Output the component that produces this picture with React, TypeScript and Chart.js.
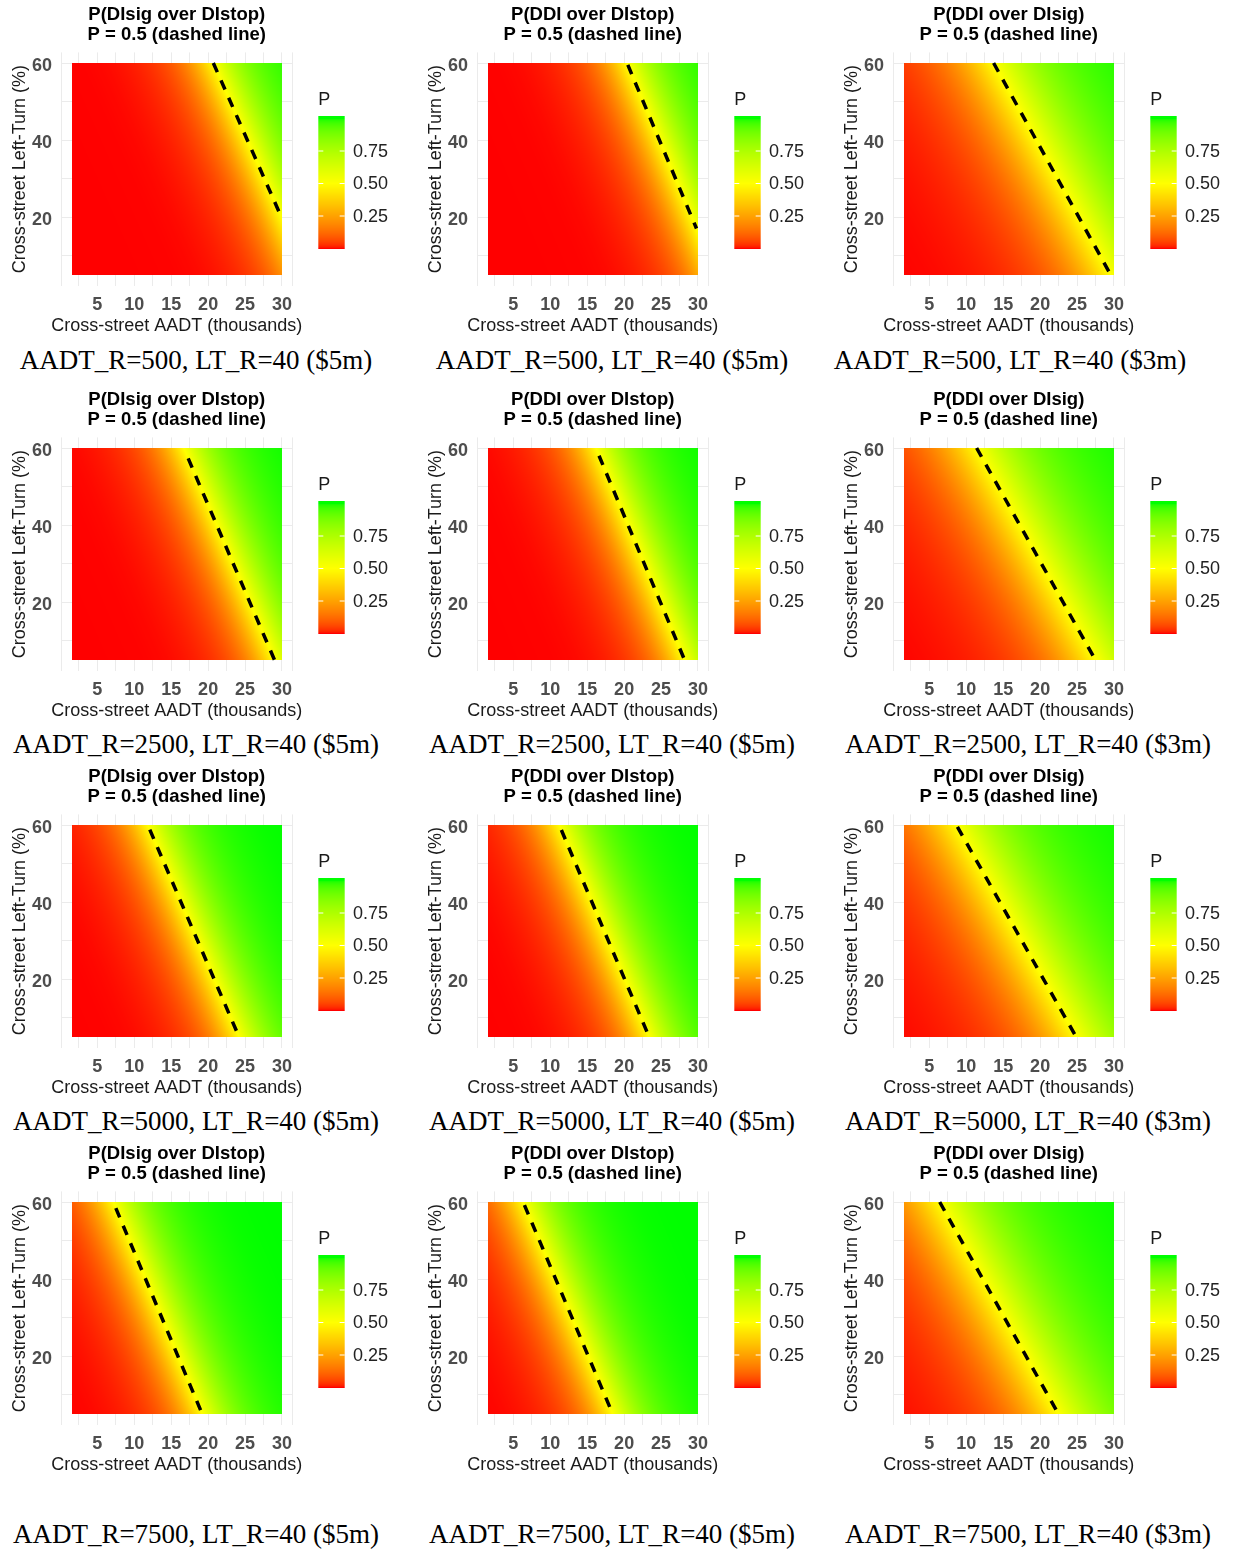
import React, { useEffect, useRef } from 'react';
import { Chart, registerables } from 'chart.js';

Chart.register(...registerables);

// ---------- data ----------
const panelTitles = ['P(DIsig over DIstop)', 'P(DDI over DIstop)', 'P(DDI over DIsig)'];
const panelSubtitle = 'P = 0.5 (dashed line)';
const xAxisTitle = 'Cross-street AADT (thousands)';
const yAxisTitle = 'Cross-street Left-Turn (%)';
const legendTitle = 'P';

const captions = [
  'AADT_R=500, LT_R=40 ($5m)', 'AADT_R=500, LT_R=40 ($5m)', 'AADT_R=500, LT_R=40 ($3m)',
  'AADT_R=2500, LT_R=40 ($5m)', 'AADT_R=2500, LT_R=40 ($5m)', 'AADT_R=2500, LT_R=40 ($3m)',
  'AADT_R=5000, LT_R=40 ($5m)', 'AADT_R=5000, LT_R=40 ($5m)', 'AADT_R=5000, LT_R=40 ($3m)',
  'AADT_R=7500, LT_R=40 ($5m)', 'AADT_R=7500, LT_R=40 ($5m)', 'AADT_R=7500, LT_R=40 ($3m)',
];

// P = 0.5 contour (dashed line) end points, per panel (row-major)
const contourX1 = [20.7, 20.5, 13.7, 17.3, 16.6, 11.4, 12.1, 11.5, 8.8, 7.5, 6.5, 6.4];
const contourY1 = [60.0, 59.5, 60.0, 57.3, 58.0, 60.0, 58.8, 58.7, 59.5, 58.4, 59.2, 60.0];
const contourX2 = [30.0, 29.8, 29.5, 29.0, 28.2, 27.5, 24.2, 23.4, 24.9, 19.1, 18.4, 22.4];
const contourY2 = [19.7, 17.1, 5.3, 5.0, 5.0, 5.0, 5.0, 5.0, 5.0, 5.5, 5.3, 5.3];
// how quickly P changes with AADT (per thousand) across the contour
const steepness = [0.4, 0.4, 0.25, 0.4, 0.4, 0.25, 0.4, 0.4, 0.25, 0.4, 0.4, 0.25];

const aadtRange = [1.6, 30];
const ltRange = [5, 60];
const xTicks = [5, 10, 15, 20, 25, 30];
const yTicks = [20, 40, 60];
const legendTicks = [0.25, 0.5, 0.75];

// ---------- layout ----------
const rowOffsets = [0, 385, 762, 1139];
const captionY = [360, 744, 1121, 1534];
const captionShift = [0, 0, -18, 0, 0, 0, 0, 0, 0, 0, 0, 0];
const CANVAS_H = 340;

// ---------- colour scale (Lab interpolation red -> yellow -> green) ----------
function toLin(c: number) { c /= 255; return c <= 0.04045 ? c / 12.92 : Math.pow((c + 0.055) / 1.055, 2.4); }
function fromLin(v: number) {
  v = v <= 0.0031308 ? 12.92 * v : 1.055 * Math.pow(v, 1 / 2.4) - 0.055;
  return Math.round(Math.max(0, Math.min(1, v)) * 255);
}
const XN = 0.95047, YN = 1, ZN = 1.08883;
function rgbToLab(rgb: number[]) {
  const R = toLin(rgb[0]), G = toLin(rgb[1]), B = toLin(rgb[2]);
  const X = 0.4124 * R + 0.3576 * G + 0.1805 * B;
  const Y = 0.2126 * R + 0.7152 * G + 0.0722 * B;
  const Z = 0.0193 * R + 0.1192 * G + 0.9505 * B;
  const f = (t: number) => (t > 0.008856 ? Math.cbrt(t) : 7.787 * t + 16 / 116);
  const fx = f(X / XN), fy = f(Y / YN), fz = f(Z / ZN);
  return [116 * fy - 16, 500 * (fx - fy), 200 * (fy - fz)];
}
function labToRgb(lab: number[]) {
  const fy = (lab[0] + 16) / 116, fx = fy + lab[1] / 500, fz = fy - lab[2] / 200;
  const inv = (t: number) => (t * t * t > 0.008856 ? t * t * t : (t - 16 / 116) / 7.787);
  const X = XN * inv(fx), Y = YN * inv(fy), Z = ZN * inv(fz);
  const R = 3.2406 * X - 1.5372 * Y - 0.4986 * Z;
  const G = -0.9689 * X + 1.8758 * Y + 0.0415 * Z;
  const B = 0.0557 * X - 0.204 * Y + 1.057 * Z;
  return [fromLin(R), fromLin(G), fromLin(B)];
}
const LOW = rgbToLab([255, 0, 0]);
const MID = rgbToLab([255, 255, 0]);
const HIGH = rgbToLab([0, 255, 0]);
const LUT_N = 4096;
const LUT: number[][] = [];
for (let i = 0; i <= LUT_N; i++) {
  const p = i / LUT_N;
  let a: number[], b: number[], t: number;
  if (p < 0.5) { a = LOW; b = MID; t = p / 0.5; } else { a = MID; b = HIGH; t = (p - 0.5) / 0.5; }
  LUT.push(labToRgb([a[0] + (b[0] - a[0]) * t, a[1] + (b[1] - a[1]) * t, a[2] + (b[2] - a[2]) * t]));
}
function colorOf(p: number) { return LUT[Math.max(0, Math.min(LUT_N, Math.round(p * LUT_N)))]; }

function probability(i: number, x: number, y: number) {
  const xc = contourX1[i] + ((contourX2[i] - contourX1[i]) * (y - contourY1[i])) / (contourY2[i] - contourY1[i]);
  return 1 / (1 + Math.exp(-steepness[i] * (x - xc)));
}

const xGrid = [0.075, 2.5, 5, 7.5, 10, 12.5, 15, 17.5, 20, 22.5, 25, 27.5, 30, 31.425];
const yGrid = [10, 20, 30, 40, 50, 60];
const FONT = '"Liberation Sans", Arial, sans-serif';

function Panel({ index }: { index: number }) {
  const ref = useRef<HTMLCanvasElement>(null);
  const row = Math.floor(index / 3);
  const col = index % 3;
  const width = col === 2 ? 401 : 416;

  useEffect(() => {
    const canvas = ref.current!;
    const heatPlugin = {
      id: 'heat' + index,
      beforeDatasetsDraw(chart: any) {
        const { ctx } = chart;
        const xs = chart.scales.x, ys = chart.scales.y;
        const x0 = Math.round(xs.getPixelForValue(aadtRange[0]));
        const x1 = Math.round(xs.getPixelForValue(aadtRange[1]));
        const y0 = Math.round(ys.getPixelForValue(ltRange[1]));
        const y1 = Math.round(ys.getPixelForValue(ltRange[0]));
        const w = x1 - x0, h = y1 - y0;
        const off = document.createElement('canvas');
        off.width = w; off.height = h;
        const octx = off.getContext('2d')!;
        const img = octx.createImageData(w, h);
        for (let py = 0; py < h; py++) {
          const yv = ys.getValueForPixel(y0 + py + 0.5);
          for (let px = 0; px < w; px++) {
            const xv = xs.getValueForPixel(x0 + px + 0.5);
            const c = colorOf(probability(index, xv, yv));
            const k = (py * w + px) * 4;
            img.data[k] = c[0]; img.data[k + 1] = c[1]; img.data[k + 2] = c[2]; img.data[k + 3] = 255;
          }
        }
        octx.putImageData(img, 0, 0);
        ctx.drawImage(off, x0, y0);
      },
    };
    const decorPlugin = {
      id: 'decor' + index,
      afterDraw(chart: any) {
        const { ctx, chartArea: ca } = chart;
        const cx = (ca.left + ca.right) / 2;
        ctx.save();
        ctx.textAlign = 'center';
        ctx.textBaseline = 'middle';
        ctx.fillStyle = '#000';
        ctx.font = `bold 18.5px ${FONT}`;
        ctx.fillText(panelTitles[col], cx, 15);
        ctx.fillText(panelSubtitle, cx, 35);
        ctx.fillStyle = '#1a1a1a';
        ctx.font = `18px ${FONT}`;
        ctx.fillText(xAxisTitle, cx, 326);
        ctx.save();
        ctx.translate(20, (ca.top + ca.bottom) / 2);
        ctx.rotate(-Math.PI / 2);
        ctx.fillText(yAxisTitle, 0, 0);
        ctx.restore();
        // legend colour bar
        const barL = 318.3, barR = 344.7, barT = 116, barB = 249;
        const p0y = 248.5, pScale = 130;
        ctx.textAlign = 'left';
        ctx.fillText(legendTitle, barL, 100);
        for (let py = Math.floor(barT); py < Math.ceil(barB); py++) {
          const p = (p0y - (py + 0.5)) / pScale;
          const c = colorOf(p);
          ctx.fillStyle = `rgb(${c[0]},${c[1]},${c[2]})`;
          const top = Math.max(py, barT), bot = Math.min(py + 1, barB);
          ctx.fillRect(barL, top, barR - barL, bot - top);
        }
        ctx.strokeStyle = '#ffffff';
        ctx.lineWidth = 1;
        ctx.fillStyle = '#222';
        for (const t of legendTicks) {
          const y = p0y - t * pScale;
          ctx.beginPath();
          ctx.moveTo(barL, y); ctx.lineTo(barL + 5, y);
          ctx.moveTo(barR - 5, y); ctx.lineTo(barR, y);
          ctx.stroke();
          ctx.fillText(t.toFixed(2), 353, y + 0.7);
        }
        ctx.restore();
      },
    };

    const chart = new Chart(canvas, {
      type: 'scatter',
      data: {
        datasets: [
          {
            data: [
              { x: contourX1[index], y: contourY1[index] },
              { x: contourX2[index], y: contourY2[index] },
            ],
            showLine: true,
            borderColor: '#000',
            borderWidth: 3.5,
            borderDash: [10, 9],
            borderCapStyle: 'butt',
            pointRadius: 0,
            fill: false,
          } as any,
        ],
      },
      options: {
        animation: false,
        responsive: false,
        devicePixelRatio: 1,
        events: [],
        layout: { padding: { left: 0, right: width - 292.5, top: 52.4, bottom: 0 }, autoPadding: false } as any,
        plugins: { legend: { display: false }, title: { display: false }, tooltip: { enabled: false } },
        scales: {
          x: {
            type: 'linear',
            min: 0.075,
            max: 31.425,
            afterBuildTicks: (s: any) => { s.ticks = xGrid.map((v) => ({ value: v })); },
            afterFit: (s: any) => { s.height = CANVAS_H - 285.8; },
            ticks: {
              autoSkip: false,
              maxRotation: 0,
              padding: 8.5,
              color: '#4d4d4d',
              font: { family: FONT, weight: 'bold', size: 18 },
              callback: (v: any) => (xTicks.includes(v) ? String(v) : ''),
            },
            grid: { color: '#ebebeb', lineWidth: 1, drawTicks: false },
            border: { display: false },
          } as any,
          y: {
            type: 'linear',
            min: 2.25,
            max: 62.75,
            afterBuildTicks: (s: any) => { s.ticks = yGrid.map((v) => ({ value: v })); },
            afterFit: (s: any) => { s.width = 61; },
            ticks: {
              autoSkip: false,
              padding: 9,
              labelOffset: 2.7,
              color: '#4d4d4d',
              font: { family: FONT, weight: 'bold', size: 18 },
              callback: (v: any) => (yTicks.includes(v) ? String(v) : ''),
            },
            grid: { color: '#ebebeb', lineWidth: 1, drawTicks: false },
            border: { display: false },
          } as any,
        },
      },
      plugins: [heatPlugin, decorPlugin],
    });
    return () => chart.destroy();
  }, [index]);

  return (
    <canvas
      ref={ref}
      width={width}
      height={CANVAS_H}
      style={{ position: 'absolute', left: col * 416, top: rowOffsets[row], width, height: CANVAS_H }}
    />
  );
}

export default function App() {
  const panels = captions.map((_, i) => i);
  return (
    <div style={{ position: 'absolute', left: 0, top: 0, width: 1233, height: 1550, background: '#fff', overflow: 'hidden' }}>
      {panels.map((i) => (
        <Panel key={'p' + i} index={i} />
      ))}
      {captions.map((c, i) => {
        const row = Math.floor(i / 3);
        const col = i % 3;
        const cxp = 196 + col * 416 + captionShift[i];
        return (
          <div
            key={'c' + i}
            style={{
              position: 'absolute',
              left: cxp - 208,
              width: 416,
              top: captionY[row] - 16,
              height: 32,
              lineHeight: '32px',
              textAlign: 'center',
              whiteSpace: 'nowrap',
              fontFamily: '"Liberation Serif", "Times New Roman", serif',
              fontSize: 27,
              color: '#000',
            }}
          >
            {c}
          </div>
        );
      })}
    </div>
  );
}
